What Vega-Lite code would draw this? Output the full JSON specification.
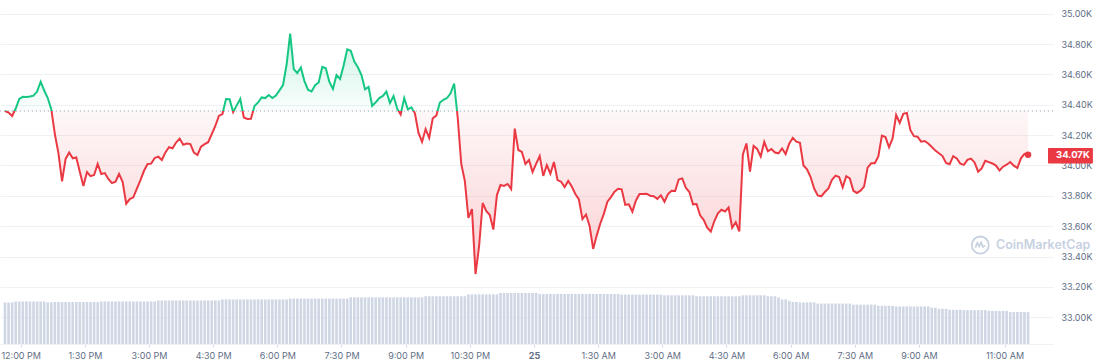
{
"$schema": "https://vega.github.io/schema/vega-lite/v6.json",
"width": 1053,
"height": 344,
"autosize": {"type": "none"},
"padding": {"left": 0, "top": 0, "right": 45, "bottom": 20},
"background": "#ffffff",
"config": {"view": {"stroke": null}, "font": "Inter"},
"data": {"values": [
{"t":"2023-10-24T11:38","p":34359,"v":30.2},{"t":"2023-10-24T11:43","p":34349,"v":30.2},{"t":"2023-10-24T11:48","p":34326,"v":30.2},{"t":"2023-10-24T11:53","p":34375,"v":30.9},{"t":"2023-10-24T11:58","p":34438,"v":30.9},
{"t":"2023-10-24T12:03","p":34452,"v":30.9},{"t":"2023-10-24T12:08","p":34451,"v":30.9},{"t":"2023-10-24T12:13","p":34454,"v":30.9},{"t":"2023-10-24T12:18","p":34460,"v":30.9},{"t":"2023-10-24T12:23","p":34487,"v":30.9},{"t":"2023-10-24T12:28","p":34552,"v":30.9},{"t":"2023-10-24T12:33","p":34494,"v":30.9},{"t":"2023-10-24T12:38","p":34444,"v":30.2},{"t":"2023-10-24T12:43","p":34368,"v":30.2},{"t":"2023-10-24T12:48","p":34205,"v":30.5},{"t":"2023-10-24T12:53","p":34080,"v":30.5},{"t":"2023-10-24T12:58","p":33895,"v":30.5},
{"t":"2023-10-24T13:03","p":34043,"v":30.5},{"t":"2023-10-24T13:08","p":34086,"v":30.5},{"t":"2023-10-24T13:13","p":34047,"v":30.5},{"t":"2023-10-24T13:18","p":34053,"v":30.5},{"t":"2023-10-24T13:23","p":33957,"v":30.5},{"t":"2023-10-24T13:28","p":33865,"v":30.5},{"t":"2023-10-24T13:33","p":33957,"v":30.5},{"t":"2023-10-24T13:38","p":33930,"v":30.5},{"t":"2023-10-24T13:43","p":33937,"v":30.5},{"t":"2023-10-24T13:48","p":34010,"v":30.5},{"t":"2023-10-24T13:53","p":33944,"v":30.9},{"t":"2023-10-24T13:58","p":33950,"v":30.9},
{"t":"2023-10-24T14:03","p":33911,"v":30.9},{"t":"2023-10-24T14:08","p":33884,"v":30.9},{"t":"2023-10-24T14:13","p":33893,"v":30.9},{"t":"2023-10-24T14:18","p":33944,"v":30.9},{"t":"2023-10-24T14:23","p":33893,"v":30.9},{"t":"2023-10-24T14:28","p":33748,"v":30.9},{"t":"2023-10-24T14:33","p":33779,"v":30.9},{"t":"2023-10-24T14:38","p":33790,"v":30.9},{"t":"2023-10-24T14:43","p":33848,"v":30.9},{"t":"2023-10-24T14:48","p":33904,"v":30.9},{"t":"2023-10-24T14:53","p":33965,"v":30.9},{"t":"2023-10-24T14:58","p":34010,"v":30.9},
{"t":"2023-10-24T15:03","p":34012,"v":30.9},{"t":"2023-10-24T15:08","p":34049,"v":30.9},{"t":"2023-10-24T15:13","p":34058,"v":31.6},{"t":"2023-10-24T15:18","p":34036,"v":31.6},{"t":"2023-10-24T15:23","p":34086,"v":31.6},{"t":"2023-10-24T15:28","p":34120,"v":31.6},{"t":"2023-10-24T15:33","p":34113,"v":31.6},{"t":"2023-10-24T15:38","p":34151,"v":31.6},{"t":"2023-10-24T15:43","p":34177,"v":31.6},{"t":"2023-10-24T15:48","p":34136,"v":31.6},{"t":"2023-10-24T15:53","p":34145,"v":31.6},{"t":"2023-10-24T15:58","p":34141,"v":31.6},
{"t":"2023-10-24T16:03","p":34085,"v":31.6},{"t":"2023-10-24T16:08","p":34069,"v":31.6},{"t":"2023-10-24T16:13","p":34124,"v":31.6},{"t":"2023-10-24T16:18","p":34140,"v":31.6},{"t":"2023-10-24T16:23","p":34153,"v":31.6},{"t":"2023-10-24T16:28","p":34207,"v":31.6},{"t":"2023-10-24T16:33","p":34260,"v":31.6},{"t":"2023-10-24T16:38","p":34326,"v":31.6},{"t":"2023-10-24T16:43","p":34339,"v":32.4},{"t":"2023-10-24T16:48","p":34438,"v":32.4},{"t":"2023-10-24T16:53","p":34436,"v":32.4},{"t":"2023-10-24T16:58","p":34352,"v":32.4},
{"t":"2023-10-24T17:03","p":34396,"v":32.4},{"t":"2023-10-24T17:08","p":34438,"v":32.4},{"t":"2023-10-24T17:13","p":34316,"v":32.4},{"t":"2023-10-24T17:18","p":34306,"v":32.4},{"t":"2023-10-24T17:23","p":34308,"v":32.4},{"t":"2023-10-24T17:28","p":34392,"v":32.4},{"t":"2023-10-24T17:33","p":34415,"v":32.4},{"t":"2023-10-24T17:38","p":34448,"v":32.4},{"t":"2023-10-24T17:43","p":34444,"v":32.4},{"t":"2023-10-24T17:48","p":34464,"v":32.4},{"t":"2023-10-24T17:53","p":34444,"v":32.4},{"t":"2023-10-24T17:58","p":34461,"v":32.4},
{"t":"2023-10-24T18:03","p":34495,"v":32.4},{"t":"2023-10-24T18:08","p":34530,"v":32.4},{"t":"2023-10-24T18:13","p":34665,"v":32.4},{"t":"2023-10-24T18:18","p":34868,"v":33.0},{"t":"2023-10-24T18:23","p":34635,"v":33.0},{"t":"2023-10-24T18:28","p":34609,"v":33.0},{"t":"2023-10-24T18:33","p":34645,"v":33.0},{"t":"2023-10-24T18:38","p":34556,"v":33.0},{"t":"2023-10-24T18:43","p":34499,"v":33.0},{"t":"2023-10-24T18:48","p":34487,"v":33.0},{"t":"2023-10-24T18:53","p":34529,"v":33.0},{"t":"2023-10-24T18:58","p":34547,"v":33.0},
{"t":"2023-10-24T19:03","p":34649,"v":33.0},{"t":"2023-10-24T19:08","p":34640,"v":33.0},{"t":"2023-10-24T19:13","p":34550,"v":33.0},{"t":"2023-10-24T19:18","p":34504,"v":33.0},{"t":"2023-10-24T19:23","p":34596,"v":33.0},{"t":"2023-10-24T19:28","p":34570,"v":33.0},{"t":"2023-10-24T19:33","p":34658,"v":33.0},{"t":"2023-10-24T19:38","p":34765,"v":33.0},{"t":"2023-10-24T19:43","p":34756,"v":33.9},{"t":"2023-10-24T19:48","p":34684,"v":33.9},{"t":"2023-10-24T19:53","p":34647,"v":33.9},{"t":"2023-10-24T19:58","p":34596,"v":33.9},
{"t":"2023-10-24T20:03","p":34502,"v":33.9},{"t":"2023-10-24T20:08","p":34518,"v":33.9},{"t":"2023-10-24T20:13","p":34392,"v":33.9},{"t":"2023-10-24T20:18","p":34416,"v":33.9},{"t":"2023-10-24T20:23","p":34444,"v":33.9},{"t":"2023-10-24T20:28","p":34458,"v":33.9},{"t":"2023-10-24T20:33","p":34487,"v":33.9},{"t":"2023-10-24T20:38","p":34411,"v":33.9},{"t":"2023-10-24T20:43","p":34458,"v":33.9},{"t":"2023-10-24T20:48","p":34376,"v":33.9},{"t":"2023-10-24T20:53","p":34336,"v":33.9},{"t":"2023-10-24T20:58","p":34444,"v":33.9},
{"t":"2023-10-24T21:03","p":34370,"v":33.9},{"t":"2023-10-24T21:08","p":34383,"v":33.9},{"t":"2023-10-24T21:13","p":34344,"v":33.9},{"t":"2023-10-24T21:18","p":34214,"v":33.9},{"t":"2023-10-24T21:23","p":34155,"v":33.9},{"t":"2023-10-24T21:28","p":34240,"v":34.7},{"t":"2023-10-24T21:33","p":34181,"v":34.7},{"t":"2023-10-24T21:38","p":34311,"v":34.7},{"t":"2023-10-24T21:43","p":34328,"v":34.7},{"t":"2023-10-24T21:48","p":34415,"v":34.7},{"t":"2023-10-24T21:53","p":34433,"v":34.7},{"t":"2023-10-24T21:58","p":34444,"v":34.7},
{"t":"2023-10-24T22:03","p":34475,"v":34.7},{"t":"2023-10-24T22:08","p":34540,"v":34.7},{"t":"2023-10-24T22:13","p":34316,"v":34.7},{"t":"2023-10-24T22:18","p":34010,"v":34.7},{"t":"2023-10-24T22:23","p":33898,"v":34.7},{"t":"2023-10-24T22:28","p":33654,"v":36.1},{"t":"2023-10-24T22:33","p":33713,"v":36.1},{"t":"2023-10-24T22:38","p":33285,"v":36.1},{"t":"2023-10-24T22:43","p":33469,"v":36.1},{"t":"2023-10-24T22:48","p":33753,"v":36.1},{"t":"2023-10-24T22:53","p":33700,"v":36.1},{"t":"2023-10-24T22:58","p":33674,"v":36.1},
{"t":"2023-10-24T23:03","p":33578,"v":36.1},{"t":"2023-10-24T23:08","p":33805,"v":36.1},{"t":"2023-10-24T23:13","p":33871,"v":37.1},{"t":"2023-10-24T23:18","p":33865,"v":37.1},{"t":"2023-10-24T23:23","p":33878,"v":37.1},{"t":"2023-10-24T23:28","p":33845,"v":37.1},{"t":"2023-10-24T23:33","p":34243,"v":37.1},{"t":"2023-10-24T23:38","p":34102,"v":37.1},{"t":"2023-10-24T23:43","p":34089,"v":37.1},{"t":"2023-10-24T23:48","p":34010,"v":37.1},{"t":"2023-10-24T23:53","p":34036,"v":37.1},{"t":"2023-10-24T23:58","p":33957,"v":37.1},
{"t":"2023-10-25T00:03","p":34010,"v":37.1},{"t":"2023-10-25T00:08","p":34062,"v":36.4},{"t":"2023-10-25T00:13","p":33931,"v":36.4},{"t":"2023-10-25T00:18","p":34003,"v":36.4},{"t":"2023-10-25T00:23","p":33946,"v":36.4},{"t":"2023-10-25T00:28","p":34023,"v":36.4},{"t":"2023-10-25T00:33","p":33904,"v":36.4},{"t":"2023-10-25T00:38","p":33893,"v":36.4},{"t":"2023-10-25T00:43","p":33858,"v":36.4},{"t":"2023-10-25T00:48","p":33898,"v":36.4},{"t":"2023-10-25T00:53","p":33861,"v":36.4},{"t":"2023-10-25T00:58","p":33812,"v":36.4},
{"t":"2023-10-25T01:03","p":33776,"v":36.4},{"t":"2023-10-25T01:08","p":33647,"v":36.4},{"t":"2023-10-25T01:13","p":33677,"v":36.4},{"t":"2023-10-25T01:18","p":33601,"v":36.4},{"t":"2023-10-25T01:23","p":33450,"v":36.4},{"t":"2023-10-25T01:28","p":33538,"v":36.4},{"t":"2023-10-25T01:33","p":33618,"v":36.4},{"t":"2023-10-25T01:38","p":33681,"v":36.4},{"t":"2023-10-25T01:43","p":33762,"v":36.4},{"t":"2023-10-25T01:48","p":33792,"v":36.4},{"t":"2023-10-25T01:53","p":33827,"v":36.4},{"t":"2023-10-25T01:58","p":33847,"v":36.4},
{"t":"2023-10-25T02:03","p":33843,"v":35.9},{"t":"2023-10-25T02:08","p":33741,"v":35.9},{"t":"2023-10-25T02:13","p":33744,"v":35.9},{"t":"2023-10-25T02:18","p":33695,"v":35.9},{"t":"2023-10-25T02:23","p":33770,"v":35.9},{"t":"2023-10-25T02:28","p":33812,"v":35.9},{"t":"2023-10-25T02:33","p":33812,"v":35.9},{"t":"2023-10-25T02:38","p":33814,"v":35.9},{"t":"2023-10-25T02:43","p":33801,"v":35.9},{"t":"2023-10-25T02:48","p":33797,"v":35.9},{"t":"2023-10-25T02:53","p":33780,"v":35.9},{"t":"2023-10-25T02:58","p":33803,"v":35.9},
{"t":"2023-10-25T03:03","p":33761,"v":35.4},{"t":"2023-10-25T03:08","p":33812,"v":35.4},{"t":"2023-10-25T03:13","p":33833,"v":35.4},{"t":"2023-10-25T03:18","p":33832,"v":35.4},{"t":"2023-10-25T03:23","p":33908,"v":35.4},{"t":"2023-10-25T03:28","p":33915,"v":35.4},{"t":"2023-10-25T03:33","p":33853,"v":35.4},{"t":"2023-10-25T03:38","p":33825,"v":35.4},{"t":"2023-10-25T03:43","p":33744,"v":35.4},{"t":"2023-10-25T03:48","p":33746,"v":34.7},{"t":"2023-10-25T03:53","p":33672,"v":34.7},{"t":"2023-10-25T03:58","p":33642,"v":34.7},
{"t":"2023-10-25T04:03","p":33590,"v":34.7},{"t":"2023-10-25T04:08","p":33564,"v":34.7},{"t":"2023-10-25T04:13","p":33634,"v":34.7},{"t":"2023-10-25T04:18","p":33685,"v":34.7},{"t":"2023-10-25T04:23","p":33708,"v":34.7},{"t":"2023-10-25T04:28","p":33697,"v":34.7},{"t":"2023-10-25T04:33","p":33723,"v":34.7},{"t":"2023-10-25T04:38","p":33590,"v":34.7},{"t":"2023-10-25T04:43","p":33627,"v":34.7},{"t":"2023-10-25T04:48","p":33566,"v":34.7},{"t":"2023-10-25T04:53","p":34073,"v":35.4},{"t":"2023-10-25T04:58","p":34145,"v":35.4},
{"t":"2023-10-25T05:03","p":33960,"v":35.4},{"t":"2023-10-25T05:08","p":34129,"v":35.4},{"t":"2023-10-25T05:13","p":34109,"v":35.4},{"t":"2023-10-25T05:18","p":34059,"v":35.4},{"t":"2023-10-25T05:23","p":34155,"v":35.4},{"t":"2023-10-25T05:28","p":34093,"v":34.7},{"t":"2023-10-25T05:33","p":34108,"v":34.7},{"t":"2023-10-25T05:38","p":34085,"v":34.7},{"t":"2023-10-25T05:43","p":34080,"v":33.9},{"t":"2023-10-25T05:48","p":34112,"v":32.4},{"t":"2023-10-25T05:53","p":34075,"v":32.4},{"t":"2023-10-25T05:58","p":34144,"v":31.4},
{"t":"2023-10-25T06:03","p":34182,"v":30.6},{"t":"2023-10-25T06:08","p":34157,"v":30.6},{"t":"2023-10-25T06:13","p":34149,"v":30.2},{"t":"2023-10-25T06:18","p":34000,"v":30.2},{"t":"2023-10-25T06:23","p":33975,"v":30.2},{"t":"2023-10-25T06:28","p":33924,"v":30.2},{"t":"2023-10-25T06:33","p":33848,"v":30.2},{"t":"2023-10-25T06:38","p":33803,"v":29.4},{"t":"2023-10-25T06:43","p":33797,"v":29.4},{"t":"2023-10-25T06:48","p":33825,"v":29.4},{"t":"2023-10-25T06:53","p":33849,"v":29.4},{"t":"2023-10-25T06:58","p":33906,"v":29.4},
{"t":"2023-10-25T07:03","p":33933,"v":29.4},{"t":"2023-10-25T07:08","p":33924,"v":29.4},{"t":"2023-10-25T07:13","p":33856,"v":29.4},{"t":"2023-10-25T07:18","p":33929,"v":29.4},{"t":"2023-10-25T07:23","p":33915,"v":29.4},{"t":"2023-10-25T07:28","p":33833,"v":28.6},{"t":"2023-10-25T07:33","p":33819,"v":28.6},{"t":"2023-10-25T07:38","p":33834,"v":28.6},{"t":"2023-10-25T07:43","p":33861,"v":28.6},{"t":"2023-10-25T07:48","p":33986,"v":28.6},{"t":"2023-10-25T07:53","p":34014,"v":28.6},{"t":"2023-10-25T07:58","p":34015,"v":28.6},
{"t":"2023-10-25T08:03","p":34060,"v":27.8},{"t":"2023-10-25T08:08","p":34197,"v":27.8},{"t":"2023-10-25T08:13","p":34187,"v":27.8},{"t":"2023-10-25T08:18","p":34120,"v":27.8},{"t":"2023-10-25T08:23","p":34178,"v":27.8},{"t":"2023-10-25T08:28","p":34332,"v":27.3},{"t":"2023-10-25T08:33","p":34280,"v":27.3},{"t":"2023-10-25T08:38","p":34340,"v":27.3},{"t":"2023-10-25T08:43","p":34346,"v":27.3},{"t":"2023-10-25T08:48","p":34232,"v":27.3},{"t":"2023-10-25T08:53","p":34193,"v":27.3},{"t":"2023-10-25T08:58","p":34189,"v":27.3},
{"t":"2023-10-25T09:03","p":34157,"v":27.3},{"t":"2023-10-25T09:08","p":34161,"v":27.3},{"t":"2023-10-25T09:13","p":34145,"v":27.3},{"t":"2023-10-25T09:18","p":34122,"v":26.4},{"t":"2023-10-25T09:23","p":34098,"v":26.4},{"t":"2023-10-25T09:28","p":34080,"v":25.6},{"t":"2023-10-25T09:33","p":34062,"v":25.6},{"t":"2023-10-25T09:38","p":34016,"v":25.6},{"t":"2023-10-25T09:43","p":34008,"v":24.9},{"t":"2023-10-25T09:48","p":34061,"v":24.9},{"t":"2023-10-25T09:53","p":34046,"v":24.9},{"t":"2023-10-25T09:58","p":34012,"v":24.9},
{"t":"2023-10-25T10:03","p":34004,"v":24.6},{"t":"2023-10-25T10:08","p":34037,"v":24.6},{"t":"2023-10-25T10:13","p":34045,"v":24.6},{"t":"2023-10-25T10:18","p":34020,"v":24.6},{"t":"2023-10-25T10:23","p":33959,"v":24.6},{"t":"2023-10-25T10:28","p":33981,"v":24.6},{"t":"2023-10-25T10:33","p":34031,"v":24.6},{"t":"2023-10-25T10:38","p":34022,"v":24.1},{"t":"2023-10-25T10:43","p":34013,"v":24.1},{"t":"2023-10-25T10:48","p":33999,"v":24.1},{"t":"2023-10-25T10:53","p":33967,"v":24.1},{"t":"2023-10-25T10:58","p":33992,"v":24.1},
{"t":"2023-10-25T11:03","p":34005,"v":24.1},{"t":"2023-10-25T11:08","p":34023,"v":23.3},{"t":"2023-10-25T11:13","p":33999,"v":23.3},{"t":"2023-10-25T11:18","p":33983,"v":23.3},{"t":"2023-10-25T11:23","p":34047,"v":23.3},{"t":"2023-10-25T11:28","p":34077,"v":23.3},{"t":"2023-10-25T11:33","p":34070,"v":23.3}
]},
"layer": [
{
"mark": {"type": "bar", "width": 2.6, "color": "#cfd6e4"},
"encoding": {
"x": {"field": "t", "type": "temporal",
"scale": {"domain": [{"year":2023,"month":10,"date":24,"hours":11,"minutes":38},{"year":2023,"month":10,"date":25,"hours":12,"minutes":1}], "nice": false},
"axis": {"title": null, "orient": "bottom", "grid": false, "domain": true, "domainColor": "#eff2f5", "ticks": true, "tickColor": "#cfd6e4", "tickSize": 3,
"labelPadding": 4, "labelFontSize": 9, "labelColor": "#616e85", "labelFont": "Inter",
"labelFontWeight": {"condition": {"test": "hours(datum.value) === 0", "value": 700}, "value": 400},
"values": [
{"year":2023,"month":10,"date":24,"hours":12,"minutes":0},{"year":2023,"month":10,"date":24,"hours":13,"minutes":30},{"year":2023,"month":10,"date":24,"hours":15,"minutes":0},{"year":2023,"month":10,"date":24,"hours":16,"minutes":30},{"year":2023,"month":10,"date":24,"hours":18,"minutes":0},{"year":2023,"month":10,"date":24,"hours":19,"minutes":30},{"year":2023,"month":10,"date":24,"hours":21,"minutes":0},{"year":2023,"month":10,"date":24,"hours":22,"minutes":30},{"year":2023,"month":10,"date":25,"hours":0,"minutes":0},{"year":2023,"month":10,"date":25,"hours":1,"minutes":30},{"year":2023,"month":10,"date":25,"hours":3,"minutes":0},{"year":2023,"month":10,"date":25,"hours":4,"minutes":30},{"year":2023,"month":10,"date":25,"hours":6,"minutes":0},{"year":2023,"month":10,"date":25,"hours":7,"minutes":30},{"year":2023,"month":10,"date":25,"hours":9,"minutes":0},{"year":2023,"month":10,"date":25,"hours":11,"minutes":0}],
"labelExpr": "hours(datum.value) === 0 ? ('' + date(datum.value)) : ((hours(datum.value) % 12 || 12) + timeFormat(datum.value, ':%M %p'))"}},
"y": {"field": "v", "type": "quantitative", "scale": {"domain": [0, 250], "nice": false}, "axis": null}
}
},
{
"encoding": {
"y": {"field": "p", "type": "quantitative", "scale": {"domain": [32824, 35090], "nice": false, "zero": false},
"axis": {"orient": "right", "title": null, "grid": true, "gridColor": "#eff2f5", "domain": false, "ticks": false, "labelPadding": 8,
"labelFontSize": 9, "labelColor": "#616e85", "labelFont": "Inter",
"values": [33000, 33200, 33400, 33600, 33800, 34000, 34200, 34400, 34600, 34800, 35000],
"labelExpr": "format(datum.value / 1000, '.2f') + 'K'"}}
},
"layer": [
{
"mark": {"type": "area", "interpolate": "linear",
"color": {"gradient": "linear", "x1": 0, "y1": 0, "x2": 0, "y2": 1, "stops": [
{"offset": 0, "color": "rgba(22,199,132,0.22)"},
{"offset": 0.3215, "color": "rgba(22,199,132,0.02)"},
{"offset": 0.3215, "color": "rgba(234,57,67,0.04)"},
{"offset": 1, "color": "rgba(234,57,67,0.24)"}]}},
"encoding": {
"x": {"field": "t", "type": "temporal", "scale": {"domain": [{"year":2023,"month":10,"date":24,"hours":11,"minutes":38},{"year":2023,"month":10,"date":25,"hours":12,"minutes":1}], "nice": false}},
"y2": {"datum": 34359}
}
},
{
"data": {"values": [{"open": 34359}]},
"mark": {"type": "rule", "color": "#9aa2b4", "strokeWidth": 1.1, "strokeDash": [1.2, 2.8]},
"encoding": {"y": {"field": "open", "type": "quantitative", "scale": {"domain": [32824, 35090], "nice": false, "zero": false}}}
},
{
"mark": {"type": "line", "strokeWidth": 2, "interpolate": "linear",
"color": {"gradient": "linear", "x1": 0, "y1": 0, "x2": 0, "y2": 1, "stops": [
{"offset": 0, "color": "#16c784"},
{"offset": 0.3215, "color": "#16c784"},
{"offset": 0.3215, "color": "#ea3943"},
{"offset": 1, "color": "#ea3943"}]}},
"encoding": {
"x": {"field": "t", "type": "temporal", "scale": {"domain": [{"year":2023,"month":10,"date":24,"hours":11,"minutes":38},{"year":2023,"month":10,"date":25,"hours":12,"minutes":1}], "nice": false}}
}
},
{
"transform": [{"filter": {"field": "t", "equal": {"year":2023,"month":10,"date":25,"hours":11,"minutes":33}}}],
"mark": {"type": "circle", "size": 42, "color": "#ea3943", "opacity": 1},
"encoding": {
"x": {"field": "t", "type": "temporal", "scale": {"domain": [{"year":2023,"month":10,"date":24,"hours":11,"minutes":38},{"year":2023,"month":10,"date":25,"hours":12,"minutes":1}], "nice": false}}
}
},
{
"transform": [{"filter": {"field": "t", "equal": {"year":2023,"month":10,"date":25,"hours":11,"minutes":33}}}],
"mark": {"type": "rect", "color": "#ea3943", "cornerRadius": 1},
"encoding": {
"x": {"datum": {"year":2023,"month":10,"date":25,"hours":12,"minutes":1}, "type": "temporal", "scale": {"domain": [{"year":2023,"month":10,"date":24,"hours":11,"minutes":38},{"year":2023,"month":10,"date":25,"hours":12,"minutes":1}], "nice": false}},
"x2": {"datum": {"year":2023,"month":10,"date":25,"hours":13,"minutes":4}},
"y": {"datum": 34115, "type": "quantitative", "scale": {"domain": [32824, 35090], "nice": false, "zero": false}},
"y2": {"datum": 34013}
}
},
{
"transform": [{"filter": {"field": "t", "equal": {"year":2023,"month":10,"date":25,"hours":11,"minutes":33}}}],
"mark": {"type": "text", "color": "#ffffff", "fontWeight": "bold", "fontSize": 9.5, "font": "Inter", "align": "left", "baseline": "middle", "dx": 8},
"encoding": {
"x": {"datum": {"year":2023,"month":10,"date":25,"hours":12,"minutes":1}, "type": "temporal", "scale": {"domain": [{"year":2023,"month":10,"date":24,"hours":11,"minutes":38},{"year":2023,"month":10,"date":25,"hours":12,"minutes":1}], "nice": false}},
"text": {"value": "34.07K"}
}
},
{
"data": {"values": [{"label": "CoinMarketCap", "level": 33476}]},
"mark": {"type": "text", "color": "#c8d1e1", "fontWeight": 600, "fontSize": 12.5, "font": "Inter", "align": "left", "baseline": "middle"},
"encoding": {
"x": {"datum": {"year":2023,"month":10,"date":25,"hours":10,"minutes":48}, "type": "temporal", "scale": {"domain": [{"year":2023,"month":10,"date":24,"hours":11,"minutes":38},{"year":2023,"month":10,"date":25,"hours":12,"minutes":1}], "nice": false}},
"y": {"field": "level", "type": "quantitative", "scale": {"domain": [32824, 35090], "nice": false, "zero": false}},
"text": {"field": "label"}
}
},
{
"data": {"values": [{"level": 33476}]},
"mark": {"type": "point", "filled": false, "size": 290, "stroke": "#c8d1e1", "strokeWidth": 1.8, "opacity": 1,
"shape": "M-1,0A1,1,0,1,0,1,0A1,1,0,1,0,-1,0Z M-0.58,0.3L-0.34,-0.25L-0.12,0.15L0.1,-0.3L0.32,0.22L0.56,0.06"},
"encoding": {
"x": {"datum": {"year":2023,"month":10,"date":25,"hours":10,"minutes":26}, "type": "temporal", "scale": {"domain": [{"year":2023,"month":10,"date":24,"hours":11,"minutes":38},{"year":2023,"month":10,"date":25,"hours":12,"minutes":1}], "nice": false}},
"y": {"field": "level", "type": "quantitative", "scale": {"domain": [32824, 35090], "nice": false, "zero": false}}
}
}
]
}
],
"resolve": {"scale": {"y": "independent"}}
}
